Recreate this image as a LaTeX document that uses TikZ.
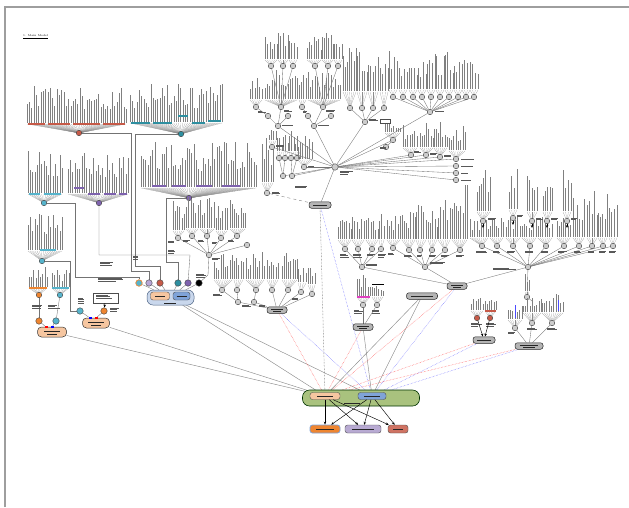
\documentclass[tikz,border=0pt]{standalone}
\usetikzlibrary{arrows.meta,backgrounds}
\definecolor{cteal}{HTML}{2E8FA0}
\definecolor{cteall}{HTML}{56B4CC}
\definecolor{cpurp}{HTML}{7E62AE}
\definecolor{clpurp}{HTML}{B7A6D6}
\definecolor{cred}{HTML}{C65A48}
\definecolor{corange}{HTML}{EE8530}
\definecolor{cpeach}{HTML}{F6C6A0}
\definecolor{cgreen}{HTML}{A9C27E}
\definecolor{cblue}{HTML}{7FA3D8}
\definecolor{cbluebox}{HTML}{C9D7EC}
\definecolor{clav}{HTML}{B8AAD2}
\definecolor{cpink}{HTML}{E040C0}
\definecolor{cgnode}{HTML}{B4B4B4}
\definecolor{cgcirc}{HTML}{CDCDCD}
\newcommand{\fan}[8]{%
  \pgfmathtruncatemacro{\nn}{max(2,round(((#5)-(#4))/2.3)+1)}%
  \foreach \k in {1,...,\nn}{%
    \pgfmathsetmacro{\xx}{(#4)+((#5)-(#4))*(\k-1)/(\nn-1)}%
    \pgfmathsetmacro{\hh}{(#7)*(0.35+0.65*rnd)}%
    \draw[fanl] (#2,#3) -- (\xx,#6);
    \draw[txt] (\xx,#6-1) -- ++(0,-\hh);
  }%
  \node[hub,fill=#8] (#1) at (#2,#3) {};
}
\newcommand{\lbl}[4]{%
  \foreach \j in {1,...,#4}{%
    \pgfmathsetmacro{\ww}{(#3)*(0.55+0.45*rnd)}%
    \draw[lblline] (#1,#2+1.7*\j-1.7) -- ++(\ww,0);
  }}
\newcommand{\cbar}[4]{\draw[#4,line width=1.1pt] (#1,#3) -- (#2,#3);}
\newcommand{\inl}[3]{\draw[lblline,draw=black!85] (#1-#3/2,#2) -- (#1+#3/2,#2);}
\begin{document}
\begin{tikzpicture}[x=1pt,y=-1pt,
  txt/.style={draw=black!50,line width=0.35pt},
  fanl/.style={draw=black!45,line width=0.15pt},
  hub/.style={circle,draw=black!75,line width=0.4pt,minimum size=5.5pt,inner sep=0pt,fill=cgcirc},
  gnode/.style={rectangle,rounded corners=2.5pt,draw=black!85,line width=0.5pt,fill=cgnode,minimum height=6.5pt,inner sep=0pt},
  conn/.style={draw=black!55,line width=0.35pt},
  lblline/.style={draw=black!65,line width=0.45pt},
  rdot/.style={draw=red!70,line width=0.45pt,densely dotted},
  bdot/.style={draw=blue!60,line width=0.45pt,densely dotted},
  gline/.style={draw=black!45,line width=0.45pt},
  arr/.style={draw=black,line width=0.45pt,-{Stealth[length=3pt,width=2.5pt]}},
  ibox/.style={rectangle,rounded corners=2.5pt,draw=black!70,line width=0.4pt,minimum height=7pt,inner sep=0pt}]
\pgfmathsetseed{42}
\useasboundingbox (0,0) rectangle (629,507);
\draw[draw=black!38,line width=1.6pt] (4.8,507) -- (4.8,7) -- (629,7);
\node[anchor=west,font=\fontsize{2.8}{3}\selectfont,inner sep=0pt] (title) at (23,37) {\underline{1. Main Model}};

% ---------- top-left coloured groups ----------
\fan{F1}{79}{133}{27}{126}{124}{38}{cred}
\cbar{28}{45}{124}{cred}\cbar{48}{70}{124}{cred}\cbar{73}{100}{124}{cred}\cbar{103}{125}{124}{cred}
\fan{F2}{181}{134}{130}{222}{123}{38}{cteal}
\cbar{131}{150}{123}{cteal}\cbar{153}{172}{123}{cteal}\cbar{178}{188}{116}{cteal}\cbar{192}{205}{123}{cteal}\cbar{208}{221}{121}{cteal}
\fan{F3}{44}{203}{28}{62}{194}{42}{cteall}
\cbar{29}{40}{194}{cteall}\cbar{44}{61}{194}{cteall}
\fan{F4}{99}{203}{68}{128}{194}{40}{cpurp}
\cbar{74}{84}{188}{cpurp}\cbar{88}{100}{194}{cpurp}\cbar{104}{116}{194}{cpurp}\cbar{119}{127}{194}{cpurp}
\fan{F5}{189}{198}{141}{256}{188}{45}{cpurp}
\cbar{152}{166}{186}{cpurp}\cbar{172}{186}{186}{cpurp}\cbar{196}{212}{186}{cpurp}\cbar{222}{240}{186}{cpurp}
\fan{F6}{42}{261}{28}{62}{251}{36}{cteall}
\cbar{40}{56}{250}{cteall}
\fan{F7}{39}{295}{29}{47}{288}{22}{corange}
\cbar{29}{47}{288}{corange}
\fan{F8}{60}{295}{52}{69}{288}{18}{cteall}
\cbar{52}{69}{288}{cteall}

% ---------- grey tree under purple ----------
\fan{G9}{178}{238}{173}{184}{231}{30}{cgcirc}
\fan{G10}{192}{236}{186}{198}{229}{32}{cgcirc}
\fan{G11}{207}{236}{200}{214}{229}{30}{cgcirc}
\fan{G12}{221}{238}{216}{227}{231}{28}{cgcirc}
\fan{G13}{237}{236}{230}{245}{229}{30}{cgcirc}
\node[hub] (G1) at (209,255) {};
\node[hub] (G14) at (247,245) {};

% ---------- centre-left grey tree ----------
\fan{C1}{222}{290}{214}{232}{280}{25}{cgcirc}
\fan{C2}{237}{290}{234}{243}{280}{22}{cgcirc}
\fan{C3}{256}{290}{246}{264}{280}{28}{cgcirc}
\fan{C4}{272}{290}{267}{278}{280}{25}{cgcirc}
\fan{C5}{288}{290}{282}{297}{280}{28}{cgcirc}
\fan{C6}{301}{292}{298}{306}{283}{20}{cgcirc}
\fan{C7}{312}{294}{308}{315}{285}{18}{cgcirc}
\node[hub] (C12) at (238,302) {};
\node[hub] (C34) at (254,302) {};
\node[gnode,minimum width=20pt] (gn1) at (277,310) {};

% ---------- top centre tree ----------
\fan{Au1}{271}{66}{265}{277}{60}{24}{cgcirc}
\fan{Au2}{283}{66}{278}{288}{60}{26}{cgcirc}
\fan{Au3}{293}{66}{289}{297}{60}{20}{cgcirc}
\fan{Bu1}{315}{66}{307}{321}{60}{24}{cgcirc}
\fan{Bu2}{328}{66}{322}{333}{60}{26}{cgcirc}
\fan{Bu3}{338}{66}{334}{342}{60}{18}{cgcirc}
\fan{A1}{256}{107}{250}{262}{100}{26}{cgcirc}
\fan{A2}{281}{107}{265}{297}{100}{30}{cgcirc}
\fan{B1}{302}{107}{299}{306}{100}{28}{cgcirc}
\fan{B2}{323}{107}{308}{340}{100}{30}{cgcirc}
\node[hub] (a1) at (268,116) {};
\node[hub] (a2) at (288,116) {};
\node[hub] (b1) at (308,116) {};
\node[hub] (b2) at (331,116) {};
\node[hub] (Ahub) at (278,126) {};
\node[hub] (Bhub) at (314,126) {};
\fan{Ca}{350}{108}{343}{356}{92}{45}{cgcirc}
\fan{Cb}{362}{108}{357}{367}{92}{40}{cgcirc}
\fan{Cc}{373}{108}{368}{378}{92}{36}{cgcirc}
\fan{Cd}{384}{108}{380}{388}{92}{42}{cgcirc}
\node[hub] (Chub) at (365,122) {};
\node[draw=black!70,fill=white,minimum width=10pt,minimum height=4pt,inner sep=0pt] (Crect) at (385,121) {};
\foreach \c/\h [count=\i] in {393/38,403/32,413/36,422/30,431/40,440/34,449/38,458/30,466/36,474/28}{\fan{D\i}{\c}{97}{\c-4}{\c+4}{90}{\h}{cgcirc}}
\node[hub] (Dhub) at (430,112) {};
\fan{Ehub}{393}{140}{385}{400}{133}{10}{cgcirc}
\node[hub] (e0) at (386,147) {};
\fan{E1}{411}{155}{403}{417}{148}{22}{cgcirc}
\fan{E2}{426}{155}{420}{433}{148}{24}{cgcirc}
\fan{E3}{440}{157}{434}{447}{148}{26}{cgcirc}
\fan{E4}{456}{159}{449}{465}{151}{26}{cgcirc}
\node[hub] (S1) at (456,166) {};
\node[hub] (S2) at (456,173) {};
\node[hub] (S3) at (456,180) {};
\fan{L1}{267}{193}{262}{273}{183}{45}{cgcirc}
\fan{L2}{272}{147}{269}{276}{141}{12}{cgcirc}
\fan{M1}{279}{158}{277}{282}{152}{18}{cgcirc}
\fan{M2}{285}{158}{283}{288}{152}{16}{cgcirc}
\fan{M3}{291}{158}{289}{294}{152}{20}{cgcirc}
\fan{M4}{297}{158}{295}{300}{152}{16}{cgcirc}
\node[hub] (Mh1) at (283,176) {};
\node[hub] (Mh2) at (292,176) {};
\fan{N1}{304}{167}{298}{312}{160}{24}{cgcirc}
\node[hub,minimum size=6.5pt] (H1) at (335,167) {};
\node[gnode,minimum width=22pt] (gn14) at (320,205) {};

% ---------- right tree ----------
\fan{ra}{345}{249}{338}{351}{240}{20}{cgcirc}
\fan{rb}{358}{249}{352}{364}{240}{22}{cgcirc}
\fan{rc}{372}{249}{366}{378}{240}{25}{cgcirc}
\fan{rd}{381}{249}{379}{384}{240}{30}{cgcirc}
\fan{re}{393}{248}{387}{400}{240}{25}{cgcirc}
\fan{rf}{409}{250}{402}{415}{240}{30}{cgcirc}
\fan{rg}{420}{250}{416}{426}{240}{35}{cgcirc}
\fan{rh}{432}{250}{428}{437}{240}{30}{cgcirc}
\fan{ri}{445}{250}{438}{450}{240}{45}{cgcirc}
\fan{rj}{460}{250}{452}{467}{240}{55}{cgcirc}
\node[hub] (R1) at (362,267) {};
\node[hub] (R2) at (425,267) {};
\node[hub] (R3) at (528,267) {};
\foreach \c/\a/\b/\h [count=\i] in {482/470/488/20,497/490/503/20,513/506/520/22,530/522/536/20,546/538/552/22,564/557/570/20,579/573/584/45,592/587/597/50,603/598/607/48,613/609/617/44}{\fan{q\i}{\c}{246}{\a}{\b}{238}{\h}{cgcirc}}
\fan{u1}{483}{221}{477}{490}{212}{42}{cgcirc}
\fan{u2}{513}{218}{509}{517}{210}{40}{cgcirc}
\fan{u3}{532}{221}{527}{537}{212}{35}{cgcirc}
\fan{u4}{547}{221}{543}{552}{212}{40}{cgcirc}
\fan{u5}{567}{221}{563}{571}{212}{45}{cgcirc}
\foreach \i in {1,...,5}{\draw[arr] (u\i) -- ++(0,7);}
\node[gnode,minimum width=20pt] (gnR) at (457,286) {};
\node[gnode,minimum width=31pt] (gnL) at (422,296) {};

% ---------- bottom right ----------
\fan{btop}{527}{297}{525}{529}{292}{20}{cgcirc}
\fan{t1}{515}{328}{508}{522}{320}{14}{cgcirc}
\fan{t2}{532}{323}{523}{541}{313}{16}{cgcirc}
\fan{t3}{552}{323}{542}{563}{313}{18}{cgcirc}
\draw[blue!70,line width=0.4pt] (515,305) -- (515,318);
\draw[blue!70,line width=0.4pt] (558,300) -- (558,311);
\node[gnode,minimum width=28pt] (gnBR) at (529,346) {};
\fan{p1}{477}{318}{471}{483}{311}{14}{cred}
\fan{p2}{490}{318}{485}{496}{311}{12}{cred}
\cbar{485}{496}{311}{cred}
\node[gnode,minimum width=22pt] (gnP) at (484,340) {};

% ---------- pink group ----------
\fan{k1}{363}{305}{357}{370}{297}{22}{cgcirc}
\cbar{357}{370}{297}{cpink}
\fan{k2}{377}{305}{372}{383}{297}{12}{cgcirc}
\draw[black,line width=0.8pt] (372,284) -- (384,284);
\node[gnode,minimum width=20pt] (gnM) at (363,327) {};

% ---------- left bottom ----------
\node[hub,minimum size=6.5pt,fill=cteall,draw=corange,line width=0.7pt] (c1) at (139,283) {};
\node[hub,minimum size=6.5pt,fill=clpurp] (c2) at (149,283) {};
\node[hub,minimum size=6.5pt,fill=cred] (c3) at (160,283) {};
\node[hub,minimum size=6.5pt,fill=cteal] (c4) at (178,283) {};
\node[hub,minimum size=6.5pt,fill=cpurp] (c5) at (188,283) {};
\node[hub,minimum size=6.5pt,fill=black] (c6) at (199,283) {};
\node[rectangle,rounded corners=6pt,draw=cblue!60!black,fill=cbluebox,line width=0.5pt,minimum width=47pt,minimum height=15pt] (bluebig) at (170.5,297.5) {};
\node[ibox,fill=cpeach,minimum width=19pt,minimum height=8pt] (bo) at (160,296) {};
\node[ibox,fill=cblue,minimum width=17pt,minimum height=8pt] (bb) at (181.5,296) {};
\node[hub,minimum size=6.5pt,fill=corange] (oc1) at (39,321) {};
\node[hub,minimum size=6.5pt,fill=cteall] (tc1) at (56,321) {};
\node[hub,minimum size=6.5pt,fill=cteall] (tc2) at (80,311) {};
\node[hub,minimum size=6.5pt,fill=corange] (oc2) at (104,311) {};
\node[rectangle,rounded corners=4pt,draw=black!80,fill=cpeach,line width=0.5pt,minimum width=29pt,minimum height=10pt] (ob1) at (52,332) {};
\node[rectangle,rounded corners=4pt,draw=black!80,fill=cpeach,line width=0.5pt,minimum width=27pt,minimum height=10pt] (ob2) at (96,323) {};
\node[fill=red,minimum width=3pt,minimum height=1.6pt,inner sep=0pt] (m1) at (46,327) {};
\node[fill=blue,minimum width=3pt,minimum height=1.6pt,inner sep=0pt] (m2) at (52,327) {};
\node[fill=blue,minimum width=3pt,minimum height=1.6pt,inner sep=0pt] (m3) at (90,318) {};
\node[fill=red,minimum width=3pt,minimum height=1.6pt,inner sep=0pt] (m4) at (96,318) {};
\node[draw=black!70,fill=white,line width=0.4pt,minimum width=25pt,minimum height=10pt,inner sep=0pt] (doc) at (105.5,298) {};

% ---------- central ----------
\node[rectangle,rounded corners=7pt,draw=black!60!green!50!black,fill=cgreen,line width=0.6pt,minimum width=117pt,minimum height=16pt] (main) at (361,398) {};
\node[ibox,fill=cpeach,minimum width=30pt] (cons) at (325,396) {};
\node[ibox,fill=cblue,minimum width=28pt] (blue) at (372,396) {};
\node[ibox,fill=corange,draw=cblue,line width=0.8pt,minimum width=30pt,minimum height=8pt] (bt1) at (325,429) {};
\node[ibox,fill=clav,minimum width=36pt,minimum height=8pt] (bt2) at (363,429) {};
\node[ibox,fill=cred!85,minimum width=20pt,minimum height=8pt] (bt3) at (398,429) {};
\foreach \s in {cons,blue}{\foreach \t in {bt1,bt2,bt3}{\draw[arr] (\s) -- (\t);}}

% ---------- labels (unreadable small text) ----------
\inl{325}{396}{16}\inl{372}{396}{16}\inl{352}{403}{16}
\inl{325}{429}{18}\inl{363}{429}{22}\inl{398}{429}{10}
\inl{320}{205}{14}\inl{277}{309}{12}\inl{277}{311.5}{8}\inl{457}{285}{12}\inl{457}{287.5}{8}
\inl{422}{296}{22}\inl{363}{326}{12}\inl{363}{328.5}{8}\inl{484}{340}{14}\inl{529}{345}{18}\inl{529}{347.5}{12}
\inl{52}{331}{16}\inl{52}{334}{10}\inl{96}{322}{16}\inl{96}{325}{10}\inl{160}{296}{10}\inl{181.5}{296}{10}\inl{170}{303}{12}
\lbl{96}{295}{18}{3}
\lbl{340}{171}{14}{3}\lbl{380}{147}{10}{2}
\lbl{414}{151}{8}{2}\lbl{430}{153}{8}{2}\lbl{444}{155}{8}{2}
\lbl{461}{159}{14}{1}\lbl{461}{166}{14}{1}\lbl{461}{173}{10}{1}\lbl{461}{180}{16}{1}
\lbl{435}{111}{14}{1}\lbl{369}{119}{10}{2}
\lbl{258}{111}{8}{2}\lbl{284}{110}{8}{2}\lbl{303}{111}{6}{2}\lbl{326}{110}{10}{2}
\lbl{282}{125}{12}{1}\lbl{318}{125}{14}{1}
\lbl{272}{192}{12}{2}\lbl{276}{145}{10}{2}\lbl{295}{186}{12}{2}\lbl{308}{166}{8}{1}
\lbl{366}{264}{12}{2}\lbl{430}{262}{16}{2}\lbl{493}{268}{26}{2}
\lbl{340}{254}{10}{3}\lbl{353}{254}{10}{3}\lbl{367}{254}{9}{2}\lbl{378}{254}{8}{3}
\lbl{388}{253}{9}{2}\lbl{404}{255}{9}{2}\lbl{417}{255}{7}{2}\lbl{429}{255}{7}{2}\lbl{441}{255}{9}{2}\lbl{456}{255}{10}{2}
\lbl{476}{251}{12}{2}\lbl{493}{251}{10}{2}\lbl{507}{251}{10}{2}\lbl{525}{251}{10}{2}\lbl{541}{251}{10}{2}\lbl{558}{251}{10}{2}\lbl{574}{251}{9}{2}\lbl{588}{251}{8}{2}\lbl{599}{251}{8}{2}\lbl{609}{251}{8}{2}
\lbl{488}{218}{8}{2}\lbl{517}{215}{8}{2}\lbl{536}{218}{8}{2}\lbl{551}{218}{8}{2}\lbl{571}{218}{8}{2}
\lbl{508}{332}{10}{2}\lbl{527}{328}{12}{2}\lbl{547}{328}{12}{2}
\lbl{471}{323}{11}{3}\lbl{486}{323}{11}{3}
\lbl{354}{310}{9}{3}\lbl{372}{310}{9}{3}
\lbl{168}{241}{7}{2}\lbl{183}{240}{7}{2}\lbl{198}{240}{7}{2}\lbl{212}{242}{7}{2}\lbl{228}{240}{7}{2}
\lbl{213}{294}{12}{2}\lbl{196}{274}{11}{3}\lbl{242}{305}{9}{2}\lbl{259}{305}{8}{2}\lbl{292}{298}{10}{2}
\lbl{98}{278}{32}{3}\lbl{100}{262}{13}{3}\lbl{133}{256}{8}{3}\lbl{168}{250}{8}{3}
\lbl{32}{305}{13}{3}\lbl{48}{305}{12}{3}\lbl{78}{298}{9}{4}\lbl{110}{308}{10}{3}\lbl{212}{258}{10}{2}

% ---------- connectors ----------
\begin{scope}[on background layer]
\draw[conn] (F3) -- (75,203) -- (75,277) -- (139,277) -- (c1);
\draw[conn] (F1) -- (131,133) -- (131,271) -- (149,271) -- (c2);
\draw[conn] (F2) -- (135,134) -- (135,266) -- (160,266) -- (c3);
\draw[conn] (F5) -- (166,198) -- (166,262) -- (178,262) -- (c4);
\draw[conn] (F4) -- (99,255) -- (190,255) -- (c5);
\draw[conn] (G1) -- (208,275) -- (c6);
\draw[conn] (F6) -- (70,261) -- (70,311) -- (tc2);
\foreach \n in {c1,c2,c3,c4,c5,c6}{\draw[conn] (\n) -- (bluebig);}
\foreach \n in {G9,G10,G11,G12,G13,G14}{\draw[conn] (\n) -- (G1);}
\draw[conn] (C1) -- (C12); \draw[conn] (C2) -- (C12); \draw[conn] (C3) -- (C34);
\foreach \n in {C12,C34,C4,C5,C6,C7}{\draw[conn] (\n) -- (gn1);}
\draw[conn] (F7) -- (oc1); \draw[conn] (F8) -- (tc1);
\draw[conn] (oc1) -- (m1); \draw[conn] (tc1) -- (m2);
\draw[conn] (tc2) -- (m3); \draw[conn] (oc2) -- (m4);
\foreach \n in {Au1,Au2,Au3}{\draw[conn] (\n) -- (A2);}
\foreach \n in {Bu1,Bu2,Bu3}{\draw[conn] (\n) -- (B2);}
\draw[conn] (A1) -- (a1); \draw[conn] (a1) -- (Ahub); \draw[conn] (A2) -- (Ahub); \draw[conn] (a2) -- (Ahub);
\draw[conn] (B1) -- (b1); \draw[conn] (b1) -- (Bhub); \draw[conn] (B2) -- (Bhub); \draw[conn] (b2) -- (Bhub);
\foreach \n in {Ca,Cb,Cc,Cd}{\draw[conn] (\n) -- (Chub);}
\foreach \i in {1,...,10}{\draw[conn] (D\i) -- (Dhub);}
\draw[conn] (e0) -- (Ehub);
\foreach \n in {Ahub,Bhub,Chub,Dhub,Ehub,E1,E2,E3,E4,S1,S2,S3,L2,Mh1,Mh2,N1,gn14}{\draw[conn] (H1) -- (\n);}
\draw[conn] (M1) -- (Mh1); \draw[conn] (M2) -- (Mh1); \draw[conn] (M3) -- (Mh2); \draw[conn] (M4) -- (Mh2);
\draw[conn,dashed] (L1) -- (gn14);
\foreach \n in {ra,rb,rc,rd}{\draw[conn] (\n) -- (R1);}
\foreach \n in {re,rf,rg,rh,ri,rj}{\draw[conn] (\n) -- (R2);}
\foreach \i in {1,...,10}{\draw[conn] (q\i) -- (R3);}
\foreach \n in {R1,R2,R3}{\draw[conn] (\n) -- (gnR);}
\draw[conn] (R3) -- (btop);
\draw[conn] (btop) -- (532,301);
\foreach \n in {t1,t2,t3}{\draw[conn] (\n) -- (gnBR);}
\draw[conn] (k1) -- (gnM); \draw[conn] (k2) -- (gnM);
% to central
\draw[gline] (ob1) -- (cons); \draw[gline] (ob2) -- (cons);
\draw[gline] (bluebig) -- (cons); \draw[gline] (bluebig) -- (blue);
\draw[rdot] (gn1) -- (cons); \draw[bdot] (gn1) -- (blue);
\draw[draw=black!70,line width=0.45pt,densely dotted] (gn14) -- (cons); \draw[bdot] (gn14) -- (blue);
\draw[rdot] (gnM) -- (cons); \draw[gline] (gnM) -- (blue);
\draw[gline] (gnL) -- (cons); \draw[gline] (gnL) -- (blue);
\draw[rdot] (gnR) -- (cons); \draw[bdot] (gnR) -- (blue);
\draw[rdot] (gnP) -- (cons); \draw[bdot] (gnP) -- (blue);
\draw[rdot] (gnBR) -- (cons); \draw[bdot] (gnBR) -- (blue);
\end{scope}
\draw[arr] (p1) -- (gnP); \draw[arr] (p2) -- (gnP);
\draw[arr] (doc) -- (oc2);
\end{tikzpicture}
\end{document}
